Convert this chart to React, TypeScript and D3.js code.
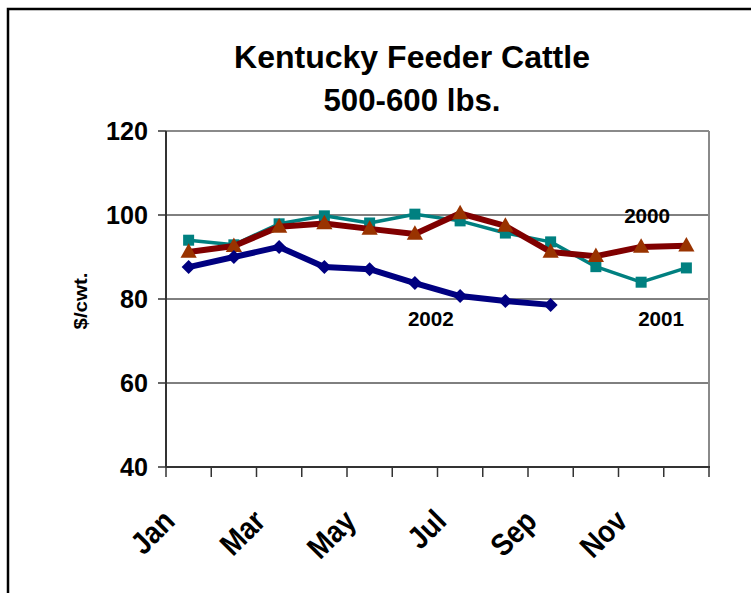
import React from "react";
import * as d3 from "d3";

const months = ["Jan", "Feb", "Mar", "Apr", "May", "Jun", "Jul", "Aug", "Sep", "Oct", "Nov", "Dec"];
const shownMonthLabels = ["Jan", "Mar", "May", "Jul", "Sep", "Nov"];
const yTicks = [40, 60, 80, 100, 120];
const values2000 = [91.2, 92.6, 97.2, 98.0, 96.7, 95.5, 100.4, 97.4, 91.2, 90.2, 92.4, 92.7];
const values2001 = [94.0, 92.9, 97.9, 99.8, 98.1, 100.2, 98.6, 95.7, 93.6, 87.7, 84.0, 87.4];
const values2002 = [87.6, 90.0, 92.4, 87.6, 87.1, 83.8, 80.7, 79.5, 78.6];
const seriesLabels = [
  { text: "2000", month: "Nov", value: 98.2, dx: 6 },
  { text: "2001", month: "Nov", value: 73.6, dx: 20 },
  { text: "2002", month: "Jun", value: 73.6, dx: 16 },
];

const W = 751;
const H = 593;
const plotL = 166;
const plotR = 709;
const plotT = 131;
const plotB = 467;
const FONT = "'Liberation Sans', Arial, Helvetica, sans-serif";

export default function App() {
  const x = d3.scaleBand<string>().domain(months).range([plotL, plotR]).padding(0);
  const y = d3.scaleLinear().domain([40, 120]).range([plotB, plotT]);
  const cx = (m: string) => (x(m) as number) + x.bandwidth() / 2;

  const line = d3
    .line<number>()
    .x((_, i) => cx(months[i]))
    .y((d) => y(d));

  const boundaries = months.map((m) => x(m) as number).concat([plotR]);

  const diamond = (px: number, py: number, r: number) =>
    `M${px},${py - r}L${px + r},${py}L${px},${py + r}L${px - r},${py}Z`;
  const triangle = (px: number, py: number, s: number) =>
    `M${px},${py - s * 0.62}L${px + s * 0.58},${py + s * 0.42}L${px - s * 0.58},${py + s * 0.42}Z`;

  return (
    <svg
      width={W}
      height={H}
      style={{ position: "absolute", left: 0, top: 0, background: "#fff" }}
      fontFamily={FONT}
    >
      {/* outer frame */}
      <rect x={8} y={9} width={W + 10} height={H + 10} fill="#fff" stroke="#000" strokeWidth={2.5} />

      {/* title */}
      <text x={412} y={68} textAnchor="middle" fontSize={31} fontWeight="bold" textLength={356} lengthAdjust="spacingAndGlyphs">
        Kentucky Feeder Cattle
      </text>
      <text x={412} y={111} textAnchor="middle" fontSize={31} fontWeight="bold" textLength={177} lengthAdjust="spacingAndGlyphs">
        500-600 lbs.
      </text>

      {/* gridlines */}
      {yTicks
        .filter((t) => t !== 40 && t !== 120)
        .map((t) => (
          <line key={t} x1={plotL} x2={plotR} y1={y(t)} y2={y(t)} stroke="#000" strokeWidth={1} />
        ))}
      {/* plot border top/right */}
      <line x1={plotL} x2={plotR} y1={plotT} y2={plotT} stroke="#8a8a8a" strokeWidth={2} />
      <line x1={plotR} x2={plotR} y1={plotT} y2={plotB} stroke="#8a8a8a" strokeWidth={2} />

      {/* y axis */}
      <line x1={plotL} x2={plotL} y1={plotT} y2={plotB} stroke="#333" strokeWidth={2} />
      {yTicks.map((t) => (
        <g key={t}>
          <line x1={plotL - 8} x2={plotL} y1={y(t)} y2={y(t)} stroke="#333" strokeWidth={1.5} />
          <text x={148} y={y(t) + 9} textAnchor="end" fontSize={26} fontWeight="bold" textLength={t >= 100 ? 42 : 28} lengthAdjust="spacingAndGlyphs">
            {t}
          </text>
        </g>
      ))}
      <text
        transform={`translate(87,301) rotate(-90)`}
        textAnchor="middle"
        fontSize={19}
        fontWeight="bold"
        textLength={57}
        lengthAdjust="spacingAndGlyphs"
      >
        $/cwt.
      </text>

      {/* x axis */}
      <line x1={plotL} x2={plotR + 1} y1={plotB} y2={plotB} stroke="#333" strokeWidth={2} />
      {boundaries.map((b, i) => (
        <line key={i} x1={b} x2={b} y1={plotB} y2={plotB + 10} stroke="#333" strokeWidth={1.5} />
      ))}
      {shownMonthLabels.map((m) => (
        <text
          key={m}
          transform={`translate(${cx(m) - 12},${plotB + 56}) rotate(-45) scale(0.88,1)`}
          textAnchor="end"
          fontSize={31}
          fontWeight="bold"
        >
          {m}
        </text>
      ))}

      {/* 2001 series */}
      <path d={line(values2001) || ""} fill="none" stroke="#008080" strokeWidth={3.5} strokeLinejoin="round" />
      {values2001.map((v, i) => (
        <rect key={i} x={cx(months[i]) - 5.5} y={y(v) - 5.5} width={11} height={11} fill="#008080" />
      ))}

      {/* 2000 series */}
      <path d={line(values2000) || ""} fill="none" stroke="#800000" strokeWidth={6} strokeLinejoin="round" />
      {values2000.map((v, i) => (
        <path key={i} d={triangle(cx(months[i]), y(v), 14)} fill="#993300" />
      ))}

      {/* 2002 series */}
      <path d={line(values2002) || ""} fill="none" stroke="#000080" strokeWidth={6} strokeLinejoin="round" />
      {values2002.map((v, i) => (
        <path key={i} d={diamond(cx(months[i]), y(v), 7)} fill="#000080" />
      ))}

      {/* series labels */}
      {seriesLabels.map((s) => (
        <text key={s.text} x={cx(s.month) + s.dx} y={y(s.value)} textAnchor="middle" fontSize={20} fontWeight="bold" textLength={46} lengthAdjust="spacingAndGlyphs">
          {s.text}
        </text>
      ))}
    </svg>
  );
}
